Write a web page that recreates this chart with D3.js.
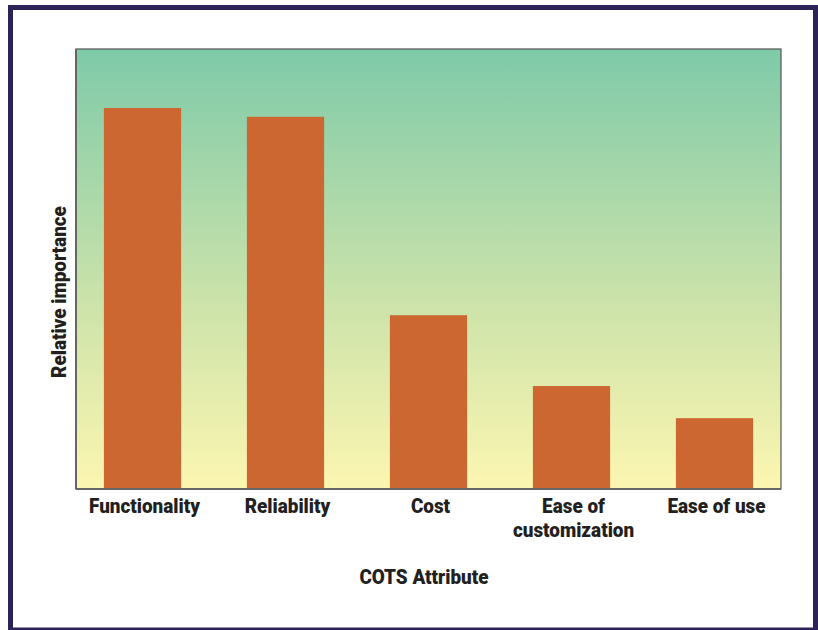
<!DOCTYPE html>
<html>
<head>
<meta charset="utf-8">
<script src="https://cdn.jsdelivr.net/npm/d3@7"></script>
<style>
  body { margin: 0; background: #fff; }
  text { font-family: Roboto, "Liberation Sans", Arial, sans-serif; font-weight: 900; fill: #231f20; }
</style>
</head>
<body>
<div id="chart-area"></div>
<script>
// data
var categories = ["Functionality", "Reliability", "Cost", "Ease of|customization", "Ease of use"];
var values = [86.6, 84.6, 39.5, 23.4, 16.1];

var width = 818;
var height = 630;
var plot = {left: 76, top: 49, right: 781, bottom: 489};
var squeeze = 0.9; // condensed look

var svg = d3.select("#chart-area")
  .append("svg")
    .attr("width", width)
    .attr("height", height);

// outer frame
svg.append("rect")
  .attr("x", 10.5)
  .attr("y", 7.5)
  .attr("width", 805)
  .attr("height", 622.5)
  .attr("fill", "none")
  .attr("stroke", "#2e2358")
  .attr("stroke-width", 5);

// background gradient
var grad = svg.append("defs").append("linearGradient")
  .attr("id", "bg")
  .attr("x1", 0).attr("y1", 0).attr("x2", 0).attr("y2", 1);
grad.append("stop").attr("offset", "0%").attr("stop-color", "#7ecaa9");
grad.append("stop").attr("offset", "60%").attr("stop-color", "#cfe4aa");
grad.append("stop").attr("offset", "100%").attr("stop-color", "#fcf6b1");

svg.append("rect")
  .attr("x", plot.left)
  .attr("y", plot.top)
  .attr("width", plot.right - plot.left)
  .attr("height", plot.bottom - plot.top)
  .attr("fill", "url(#bg)")
  .attr("stroke", "#555")
  .attr("stroke-width", 1.2);

//Scales
var x = d3.scaleBand()
  .domain(categories)
  .range([71, 786])
  .paddingInner(0.46)
  .paddingOuter(0.23);

var y = d3.scaleLinear()
  .domain([0, 100])
  .range([plot.bottom, plot.top]);

// bars
svg.selectAll("rect.bar")
  .data(values)
  .enter().append("rect")
    .attr("class", "bar")
    .attr("x", (d, i) => x(categories[i]))
    .attr("y", d => y(d))
    .attr("width", x.bandwidth())
    .attr("height", d => y(0) - y(d))
    .attr("fill", "#cc6731");

// axis lines
svg.append("line")
  .attr("x1", plot.left).attr("x2", plot.right)
  .attr("y1", plot.bottom).attr("y2", plot.bottom)
  .attr("stroke", "#666").attr("stroke-width", 2);
svg.append("line")
  .attr("x1", plot.left).attr("x2", plot.left)
  .attr("y1", plot.top).attr("y2", plot.bottom)
  .attr("stroke", "#666").attr("stroke-width", 2);

// category labels
var xAxisCall = d3.axisBottom(x).tickSize(0).tickPadding(0);
var xAxisGroup = svg.append("g")
  .attr("transform", "translate(2," + plot.bottom + ")")
  .call(xAxisCall);
xAxisGroup.select(".domain").remove();
xAxisGroup.selectAll(".tick text").each(function(d) {
  var t = d3.select(this).text("").attr("y", 0).attr("dy", null)
    .attr("transform", "scale(" + squeeze + ",1)")
    .style("font-size", "21px");
  d.split("|").forEach((line, j) => {
    t.append("tspan")
      .attr("x", 0)
      .attr("y", 24 + j * 24)
      .text(line);
  });
});

// axis titles
svg.append("text")
  .attr("transform", "translate(424,584) scale(" + squeeze + ",1)")
  .style("text-anchor", "middle")
  .style("font-size", "21px")
  .text("COTS Attribute");

svg.append("text")
  .attr("transform", "translate(66,292) rotate(-90) scale(" + squeeze + ",1)")
  .style("text-anchor", "middle")
  .style("font-size", "21px")
  .text("Relative importance");
</script>
</body>
</html>
